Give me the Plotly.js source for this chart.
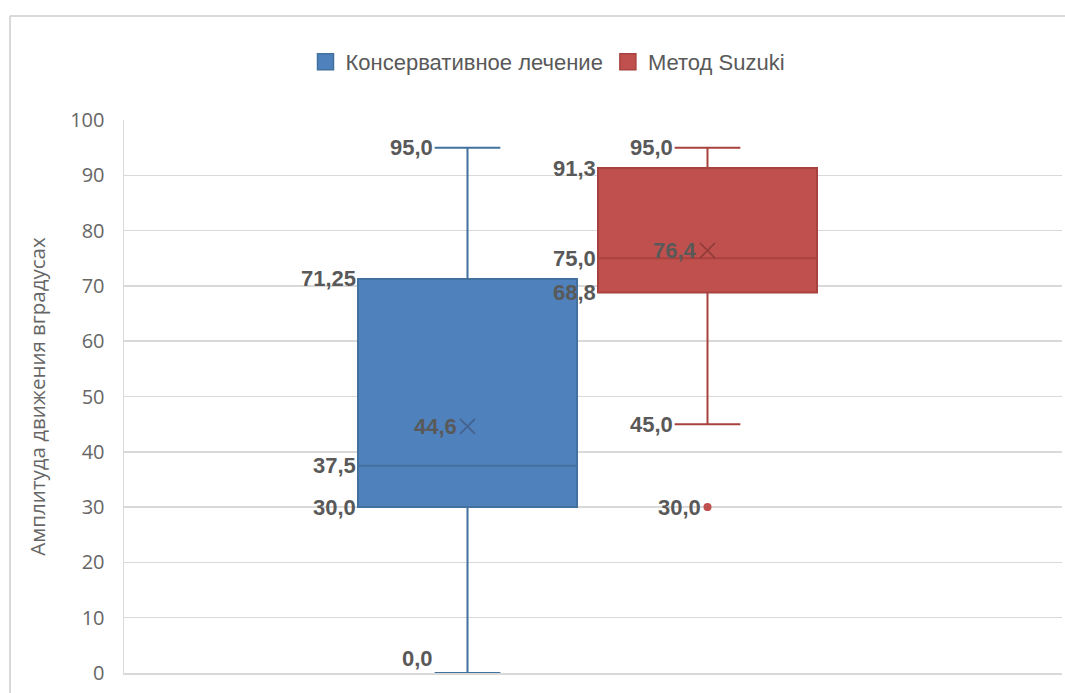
<!DOCTYPE html>
<html>
<head>
<meta charset="utf-8">
<script src="https://cdn.plot.ly/plotly-3.0.1.min.js"></script>
<style>
  html, body { margin: 0; padding: 0; background: #ffffff; overflow: hidden; }
  #chart { width: 1065px; height: 693px; }
</style>
</head>
<body>
<div id="chart"></div>
<script>
// Box-and-whisker summary per treatment group
const seriesNames = ['Консервативное лечение', 'Метод Suzuki'];
const lowerFence = [0.0, 45.0];
const q1 = [30.0, 68.8];
const median = [37.5, 75.0];
const q3 = [71.25, 91.3];
const upperFence = [95.0, 95.0];
const means = [44.6, 76.4];
const outliers = [[], [30.0]];

// Axis
const yTicks = [0, 10, 20, 30, 40, 50, 60, 70, 80, 90, 100];
const yTitle = 'Амплитуда движения вградусах';

// Styling
const fillColors = ['#4F81BD', '#C0504D'];
const lineColors = ['#41719C', '#A8423F'];
const meanColors = ['#44628C', '#8E3B39'];
const labelColor = '#595959';
const tickColor = '#666666';
const gridColor = '#D9D9D9';

const W = 1065, H = 693;
const plotL = 124, plotR = 1062, plotT = 120, plotB = 673;
const boxWidth = 0.9125;     // in units of slot spacing
const whiskerWidth = 0.3;
const pxPerSlot = 240;
const firstCenterPx = 467.5;

const xMin = -(firstCenterPx - plotL) / pxPerSlot;
const xMax = xMin + (plotR - plotL) / pxPerSlot;

function fmt(v) {
  const s = Number.isInteger(v * 10) ? v.toFixed(1) : String(v);
  return s.replace('.', ',');
}

const traces = [];
const annotations = [];
const labelFont = { family: 'Liberation Sans, Arial, sans-serif', size: 22, color: labelColor, weight: 'bold' };

seriesNames.forEach((name, i) => {
  traces.push({
    type: 'box',
    name: name,
    x: [i],
    q1: [q1[i]],
    median: [median[i]],
    q3: [q3[i]],
    lowerfence: [lowerFence[i]],
    upperfence: [upperFence[i]],
    width: boxWidth,
    whiskerwidth: whiskerWidth,
    fillcolor: fillColors[i],
    line: { color: lineColors[i], width: 2 },
    boxpoints: false,
    showlegend: false,
    hoverinfo: 'y'
  });

  // legend entry
  traces.push({
    type: 'scatter', mode: 'markers', name: name,
    x: [null], y: [null],
    marker: { symbol: 'square', size: 20, color: fillColors[i], line: { color: lineColors[i], width: 1.5 } },
    showlegend: true, hoverinfo: 'skip'
  });

  const boxLeft = i - boxWidth / 2;
  const capLeft = i - boxWidth * whiskerWidth / 2;
  const add = (x, y, xshift) => annotations.push({
    x: x, y: y, xref: 'x', yref: 'y', text: fmt(y), showarrow: false,
    xanchor: 'right', yanchor: y <= yTicks[0] ? 'bottom' : 'middle',
    xshift: xshift || 0, font: labelFont
  });
  add(capLeft, upperFence[i]);
  add(capLeft, lowerFence[i]);
  add(boxLeft, q3[i]);
  add(boxLeft, median[i]);
  add(boxLeft, q1[i]);
  add(i, means[i], -9);
  outliers[i].forEach(v => add(i, v, -5));
});

// mean markers
traces.push({
  type: 'scatter', mode: 'markers',
  x: seriesNames.map((_, i) => i), y: means,
  marker: { symbol: 'x-thin', size: 15, color: meanColors, line: { color: meanColors, width: 1.6 } },
  showlegend: false, hoverinfo: 'y'
});

// outlier points
const ox = [], oy = [], oc = [];
outliers.forEach((arr, i) => arr.forEach(v => { ox.push(i); oy.push(v); oc.push(fillColors[i]); }));
traces.push({
  type: 'scatter', mode: 'markers', x: ox, y: oy,
  marker: { symbol: 'circle', size: 8, color: oc },
  showlegend: false, hoverinfo: 'y'
});

// chart frame (top and left edges of the chart area)
const pw = plotR - plotL, ph = plotB - plotT;
const px2paperX = p => (p - plotL) / pw;
const px2paperY = p => (plotB - p) / ph;
const frameLine = { color: gridColor, width: 2 };

const layout = {
  width: W, height: H,
  margin: { l: plotL, r: W - plotR, t: plotT, b: H - plotB, pad: 0 },
  paper_bgcolor: '#ffffff',
  plot_bgcolor: '#ffffff',
  font: { family: 'Open Sans, sans-serif', color: labelColor },
  showlegend: true,
  legend: {
    orientation: 'h',
    x: px2paperX(548), xanchor: 'center',
    y: px2paperY(62), yanchor: 'middle',
    font: { family: 'Liberation Sans, Arial, sans-serif', size: 22, color: labelColor },
    itemsizing: 'trace',
    bgcolor: 'rgba(0,0,0,0)'
  },
  xaxis: {
    range: [xMin, xMax],
    showticklabels: false, showgrid: false, zeroline: false,
    showline: true, linecolor: gridColor, linewidth: 1.5,
    fixedrange: true
  },
  yaxis: {
    range: [0, 100],
    tickvals: yTicks,
    ticktext: yTicks.map(String),
    showgrid: true, gridcolor: gridColor, gridwidth: 1.5,
    zeroline: false,
    showline: true, linecolor: gridColor, linewidth: 1.5,
    ticks: '', ticklabelstandoff: 14,
    tickfont: { family: 'Open Sans, sans-serif', size: 20, color: tickColor },
    title: { text: yTitle, standoff: 19, font: { family: 'Open Sans, sans-serif', size: 20.5, color: tickColor } },
    fixedrange: true
  },
  shapes: [
    { type: 'line', xref: 'paper', yref: 'paper', layer: 'below',
      x0: px2paperX(10), x1: px2paperX(W), y0: px2paperY(16), y1: px2paperY(16), line: frameLine },
    { type: 'line', xref: 'paper', yref: 'paper', layer: 'below',
      x0: px2paperX(10), x1: px2paperX(10), y0: px2paperY(16), y1: px2paperY(H), line: frameLine }
  ],
  annotations: annotations
};

Plotly.newPlot('chart', traces, layout, { displayModeBar: false, staticPlot: true });
</script>
</body>
</html>
